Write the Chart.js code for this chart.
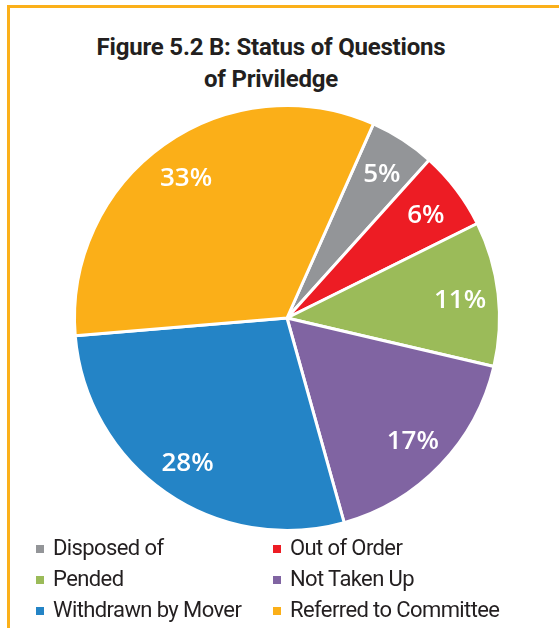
<!DOCTYPE html>
<html>
<head>
<meta charset="utf-8">
<script src="https://cdn.jsdelivr.net/npm/chart.js@4.4.1/dist/chart.umd.min.js"></script>
<style>
  html, body { margin: 0; padding: 0; background: #fff; }
  #page { position: relative; width: 559px; height: 628px; overflow: hidden; }
  #frame {
    position: absolute; left: 7px; top: 5px; right: -10px; bottom: -10px;
    border-left: 3px solid #fbb01a; border-top: 3px solid #fbb01a;
  }
  #title {
    position: absolute; left: 0; top: 31px; width: 542px; margin: 0;
    text-align: center; color: #231f20;
    font: bold 24px "Liberation Sans Narrow", "Roboto", sans-serif;
    line-height: 32px; letter-spacing: -0.2px;
  }
  #pie { position: absolute; left: 0; top: 0; }
  #legend {
    position: absolute; left: 36px; top: 532px; margin: 0; padding: 0;
    list-style: none; display: grid; grid-template-columns: 237px auto;
    font: 22px "Liberation Sans Narrow", "Roboto", sans-serif;
    color: #231f20; line-height: 31px; letter-spacing: -0.6px;
  }
  #legend li { display: flex; align-items: center; white-space: nowrap; }
  #legend span.box { width: 8px; height: 8px; margin-right: 9px; margin-top: 2px; }
</style>
</head>
<body>
<div id="page">
  <div id="frame"></div>
  <h2 id="title">Figure 5.2 B: Status of Questions<br>of Priviledge</h2>
  <canvas id="pie" width="559" height="628"></canvas>
  <ul id="legend"></ul>
</div>
<script>
const categories = ['Disposed of', 'Out of Order', 'Pended', 'Not Taken Up', 'Withdrawn by Mover', 'Referred to Committee'];
const shares = [5, 6, 11, 17, 28, 33];
const sliceColors = ['#939598', '#ed1c24', '#9bbb59', '#8064a2', '#2484c6', '#fbaf18'];

// white percentage text inside each slice
const sliceLabels = {
  id: 'sliceLabels',
  afterDatasetsDraw(chart) {
    const ctx = chart.ctx;
    const meta = chart.getDatasetMeta(0);
    ctx.save();
    ctx.fillStyle = '#fff';
    ctx.font = '600 26px "Open Sans", sans-serif';
    ctx.textAlign = 'center';
    ctx.textBaseline = 'middle';
    meta.data.forEach((arc, i) => {
      const p = arc.getProps(['x', 'y', 'startAngle', 'endAngle', 'outerRadius'], true);
      const mid = (p.startAngle + p.endAngle) / 2;
      const r = p.outerRadius * 0.82;
      ctx.fillText(shares[i] + '%', p.x + Math.cos(mid) * r, p.y + Math.sin(mid) * r + 3);
    });
    ctx.restore();
  }
};

new Chart(document.getElementById('pie'), {
  type: 'pie',
  data: {
    labels: categories,
    datasets: [{
      data: shares,
      backgroundColor: sliceColors,
      borderColor: '#fff',
      borderWidth: 3
    }]
  },
  options: {
    responsive: false,
    animation: false,
    rotation: 24,
    layout: { padding: { left: 73, right: 58, top: 104, bottom: 96 } },
    plugins: {
      legend: { display: false },
      tooltip: { enabled: false }
    }
  },
  plugins: [sliceLabels]
});

// two-column legend under the pie
const legend = document.getElementById('legend');
categories.forEach((name, i) => {
  const li = document.createElement('li');
  const box = document.createElement('span');
  box.className = 'box';
  box.style.background = sliceColors[i];
  li.appendChild(box);
  li.appendChild(document.createTextNode(name));
  legend.appendChild(li);
});
</script>
</body>
</html>
